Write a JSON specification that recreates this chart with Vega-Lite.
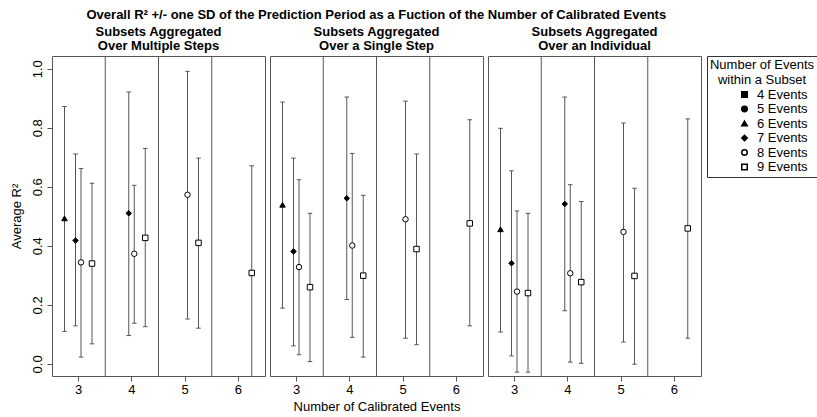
{
  "$schema": "https://vega.github.io/schema/vega-lite/v6.json",
  "background": "white",
  "padding": {"left": 9, "top": 9, "right": 2, "bottom": 0},
  "title": {"text": "Overall  R² +/- one SD of the Prediction Period as a Fuction of the Number of Calibrated Events", "fontSize": 13, "fontWeight": "bold", "anchor": "start", "dx": 77, "offset": 3, "color": "black"},
  "config": {
    "font": "Liberation Sans",
    "view": {"stroke": "#555", "strokeWidth": 1},
    "axis": {"labelFontSize": 13, "labelColor": "black", "titleFontSize": 13, "titleFontWeight": "normal", "titleColor": "black", "domain": false, "grid": false, "tickColor": "#555", "tickSize": 5},
    "title": {"fontSize": 13, "fontWeight": "bold", "color": "black", "lineHeight": 14, "offset": 3},
    "legend": {"orient": "right", "offset": 5, "padding": 3, "strokeColor": "#333", "titleFontWeight": "normal", "titleFontSize": 13, "titleColor": "black", "titleAlign": "center", "titleAnchor": "middle", "titleLineHeight": 15, "titlePadding": 1, "titleLimit": 200, "labelFontSize": 13, "labelColor": "black", "labelOffset": 6, "rowPadding": 0.5, "symbolOffset": 21}
  },
  "datasets": {
    "d": [
      {"panel": "A", "calib": 3, "events": 6, "mean": 0.493, "lo": 0.110, "hi": 0.872},
      {"panel": "A", "calib": 3, "events": 7, "mean": 0.418, "lo": 0.129, "hi": 0.711},
      {"panel": "A", "calib": 3, "events": 8, "mean": 0.344, "lo": 0.023, "hi": 0.662},
      {"panel": "A", "calib": 3, "events": 9, "mean": 0.340, "lo": 0.068, "hi": 0.612},
      {"panel": "A", "calib": 4, "events": 7, "mean": 0.510, "lo": 0.096, "hi": 0.921},
      {"panel": "A", "calib": 4, "events": 8, "mean": 0.373, "lo": 0.138, "hi": 0.605},
      {"panel": "A", "calib": 4, "events": 9, "mean": 0.427, "lo": 0.126, "hi": 0.730},
      {"panel": "A", "calib": 5, "events": 8, "mean": 0.573, "lo": 0.152, "hi": 0.991},
      {"panel": "A", "calib": 5, "events": 9, "mean": 0.410, "lo": 0.121, "hi": 0.697},
      {"panel": "A", "calib": 6, "events": 9, "mean": 0.308, "lo": -0.055, "hi": 0.671},
      {"panel": "B", "calib": 3, "events": 6, "mean": 0.539, "lo": 0.189, "hi": 0.887},
      {"panel": "B", "calib": 3, "events": 7, "mean": 0.381, "lo": 0.061, "hi": 0.697},
      {"panel": "B", "calib": 3, "events": 8, "mean": 0.328, "lo": 0.031, "hi": 0.624},
      {"panel": "B", "calib": 3, "events": 9, "mean": 0.260, "lo": 0.008, "hi": 0.510},
      {"panel": "B", "calib": 4, "events": 7, "mean": 0.561, "lo": 0.218, "hi": 0.904},
      {"panel": "B", "calib": 4, "events": 8, "mean": 0.401, "lo": 0.090, "hi": 0.713},
      {"panel": "B", "calib": 4, "events": 9, "mean": 0.299, "lo": 0.023, "hi": 0.571},
      {"panel": "B", "calib": 5, "events": 8, "mean": 0.490, "lo": 0.087, "hi": 0.890},
      {"panel": "B", "calib": 5, "events": 9, "mean": 0.389, "lo": 0.065, "hi": 0.711},
      {"panel": "B", "calib": 6, "events": 9, "mean": 0.476, "lo": 0.129, "hi": 0.827},
      {"panel": "C", "calib": 3, "events": 6, "mean": 0.456, "lo": 0.108, "hi": 0.798},
      {"panel": "C", "calib": 3, "events": 7, "mean": 0.341, "lo": 0.027, "hi": 0.654},
      {"panel": "C", "calib": 3, "events": 8, "mean": 0.245, "lo": -0.028, "hi": 0.518},
      {"panel": "C", "calib": 3, "events": 9, "mean": 0.240, "lo": -0.028, "hi": 0.510},
      {"panel": "C", "calib": 4, "events": 7, "mean": 0.542, "lo": 0.180, "hi": 0.904},
      {"panel": "C", "calib": 4, "events": 8, "mean": 0.307, "lo": 0.006, "hi": 0.607},
      {"panel": "C", "calib": 4, "events": 9, "mean": 0.277, "lo": 0.002, "hi": 0.550},
      {"panel": "C", "calib": 5, "events": 8, "mean": 0.447, "lo": 0.074, "hi": 0.816},
      {"panel": "C", "calib": 5, "events": 9, "mean": 0.298, "lo": -0.001, "hi": 0.595},
      {"panel": "C", "calib": 6, "events": 9, "mean": 0.459, "lo": 0.087, "hi": 0.830}
    ],
    "sep": [{"c": 4}, {"c": 5}, {"c": 6}]
  },
  "spacing": 3,
  "hconcat": [
    {
      "width": 213, "height": 320,
      "title": {"text": ["Subsets Aggregated", "Over Multiple Steps"]},
      "layer": [
        {"data": {"name": "sep"}, "mark": {"type": "rule", "color": "#555"},
         "encoding": {"x": {"field": "c", "type": "ordinal", "bandPosition": 0, "scale": {"type": "band", "domain": [3, 4, 5, 6], "paddingInner": 0, "paddingOuter": 0}, "axis": {"labelAngle": 0, "title": null, "labelPadding": 2}}}},
        {"data": {"name": "d"}, "transform": [{"filter": "datum.panel == 'A'"}],
         "mark": {"type": "rule", "color": "#555", "clip": true},
         "encoding": {
           "x": {"field": "calib", "type": "ordinal"},
           "xOffset": {"field": "events", "type": "quantitative", "scale": {"domain": [6, 7, 8, 9], "range": [12.5, 23.5, 29, 40]}},
           "y": {"field": "lo", "type": "quantitative", "scale": {"domain": [-0.041, 1.043], "nice": false, "zero": false}, "axis": {"values": [0, 0.2, 0.4, 0.6, 0.8, 1], "format": ".1f", "labelAngle": -90, "labelAlign": "center", "labelBaseline": "bottom", "labelPadding": 3, "title": "Average R²", "titlePadding": 8}},
           "y2": {"field": "hi"}
         }},
        {"data": {"name": "d"}, "transform": [{"filter": "datum.panel == 'A'"}],
         "mark": {"type": "point", "shape": "M-1,0L1,0", "size": 20, "stroke": "#555", "strokeWidth": 1, "filled": false, "clip": true, "opacity": 1},
         "encoding": {
           "x": {"field": "calib", "type": "ordinal"},
           "xOffset": {"field": "events", "type": "quantitative"},
           "y": {"field": "lo", "type": "quantitative"}
         }},
        {"data": {"name": "d"}, "transform": [{"filter": "datum.panel == 'A'"}],
         "mark": {"type": "point", "shape": "M-1,0L1,0", "size": 20, "stroke": "#555", "strokeWidth": 1, "filled": false, "clip": true, "opacity": 1},
         "encoding": {
           "x": {"field": "calib", "type": "ordinal"},
           "xOffset": {"field": "events", "type": "quantitative"},
           "y": {"field": "hi", "type": "quantitative"}
         }},
        {"data": {"name": "d"}, "transform": [{"filter": "datum.panel == 'A'"}],
         "mark": {"type": "point", "strokeWidth": 1, "opacity": 1},
         "encoding": {
           "x": {"field": "calib", "type": "ordinal"},
           "xOffset": {"field": "events", "type": "quantitative"},
           "y": {"field": "mean", "type": "quantitative"},
           "shape": {"field": "events", "type": "nominal", "title": ["Number of Events", "within a Subset"], "scale": {"domain": [4, 5, 6, 7, 8, 9], "range": ["square", "circle", "triangle-up", "diamond", "circle", "square"]}, "legend": {"labelExpr": "datum.label + ' Events'"}},
           "fill": {"field": "events", "type": "nominal", "title": ["Number of Events", "within a Subset"], "scale": {"domain": [4, 5, 6, 7, 8, 9], "range": ["black", "black", "black", "black", "white", "white"]}, "legend": {"labelExpr": "datum.label + ' Events'"}},
           "stroke": {"field": "events", "type": "nominal", "title": ["Number of Events", "within a Subset"], "scale": {"domain": [4, 5, 6, 7, 8, 9], "range": ["black", "black", "black", "black", "black", "black"]}, "legend": {"labelExpr": "datum.label + ' Events'"}},
           "size": {"field": "events", "type": "nominal", "title": ["Number of Events", "within a Subset"], "scale": {"domain": [4, 5, 6, 7, 8, 9], "range": [30, 30, 45, 22, 38, 55]}, "legend": {"labelExpr": "datum.label + ' Events'"}}
         }}
      ]
    },
    {
      "width": 213, "height": 320,
      "title": {"text": ["Subsets Aggregated", "Over a Single Step"]},
      "layer": [
        {"data": {"name": "sep"}, "mark": {"type": "rule", "color": "#555"},
         "encoding": {"x": {"field": "c", "type": "ordinal", "bandPosition": 0, "scale": {"type": "band", "domain": [3, 4, 5, 6], "paddingInner": 0, "paddingOuter": 0}, "axis": {"labelAngle": 0, "title": "Number of Calibrated Events", "labelPadding": 2, "titlePadding": 4}}}},
        {"data": {"name": "d"}, "transform": [{"filter": "datum.panel == 'B'"}],
         "mark": {"type": "rule", "color": "#555", "clip": true},
         "encoding": {
           "x": {"field": "calib", "type": "ordinal"},
           "xOffset": {"field": "events", "type": "quantitative", "scale": {"domain": [6, 7, 8, 9], "range": [12.5, 23.5, 29, 40]}},
           "y": {"field": "lo", "type": "quantitative", "scale": {"domain": [-0.041, 1.043], "nice": false, "zero": false}, "axis": null},
           "y2": {"field": "hi"}
         }},
        {"data": {"name": "d"}, "transform": [{"filter": "datum.panel == 'B'"}],
         "mark": {"type": "point", "shape": "M-1,0L1,0", "size": 20, "stroke": "#555", "strokeWidth": 1, "filled": false, "clip": true, "opacity": 1},
         "encoding": {
           "x": {"field": "calib", "type": "ordinal"},
           "xOffset": {"field": "events", "type": "quantitative"},
           "y": {"field": "lo", "type": "quantitative"}
         }},
        {"data": {"name": "d"}, "transform": [{"filter": "datum.panel == 'B'"}],
         "mark": {"type": "point", "shape": "M-1,0L1,0", "size": 20, "stroke": "#555", "strokeWidth": 1, "filled": false, "clip": true, "opacity": 1},
         "encoding": {
           "x": {"field": "calib", "type": "ordinal"},
           "xOffset": {"field": "events", "type": "quantitative"},
           "y": {"field": "hi", "type": "quantitative"}
         }},
        {"data": {"name": "d"}, "transform": [{"filter": "datum.panel == 'B'"}],
         "mark": {"type": "point", "strokeWidth": 1, "opacity": 1},
         "encoding": {
           "x": {"field": "calib", "type": "ordinal"},
           "xOffset": {"field": "events", "type": "quantitative"},
           "y": {"field": "mean", "type": "quantitative"},
           "shape": {"field": "events", "type": "nominal", "title": ["Number of Events", "within a Subset"], "scale": {"domain": [4, 5, 6, 7, 8, 9], "range": ["square", "circle", "triangle-up", "diamond", "circle", "square"]}, "legend": {"labelExpr": "datum.label + ' Events'"}},
           "fill": {"field": "events", "type": "nominal", "title": ["Number of Events", "within a Subset"], "scale": {"domain": [4, 5, 6, 7, 8, 9], "range": ["black", "black", "black", "black", "white", "white"]}, "legend": {"labelExpr": "datum.label + ' Events'"}},
           "stroke": {"field": "events", "type": "nominal", "title": ["Number of Events", "within a Subset"], "scale": {"domain": [4, 5, 6, 7, 8, 9], "range": ["black", "black", "black", "black", "black", "black"]}, "legend": {"labelExpr": "datum.label + ' Events'"}},
           "size": {"field": "events", "type": "nominal", "title": ["Number of Events", "within a Subset"], "scale": {"domain": [4, 5, 6, 7, 8, 9], "range": [30, 30, 45, 22, 38, 55]}, "legend": {"labelExpr": "datum.label + ' Events'"}}
         }}
      ]
    },
    {
      "width": 213, "height": 320,
      "title": {"text": ["Subsets Aggregated", "Over an Individual"]},
      "layer": [
        {"data": {"name": "sep"}, "mark": {"type": "rule", "color": "#555"},
         "encoding": {"x": {"field": "c", "type": "ordinal", "bandPosition": 0, "scale": {"type": "band", "domain": [3, 4, 5, 6], "paddingInner": 0, "paddingOuter": 0}, "axis": {"labelAngle": 0, "title": null, "labelPadding": 2}}}},
        {"data": {"name": "d"}, "transform": [{"filter": "datum.panel == 'C'"}],
         "mark": {"type": "rule", "color": "#555", "clip": true},
         "encoding": {
           "x": {"field": "calib", "type": "ordinal"},
           "xOffset": {"field": "events", "type": "quantitative", "scale": {"domain": [6, 7, 8, 9], "range": [12.5, 23.5, 29, 40]}},
           "y": {"field": "lo", "type": "quantitative", "scale": {"domain": [-0.041, 1.043], "nice": false, "zero": false}, "axis": null},
           "y2": {"field": "hi"}
         }},
        {"data": {"name": "d"}, "transform": [{"filter": "datum.panel == 'C'"}],
         "mark": {"type": "point", "shape": "M-1,0L1,0", "size": 20, "stroke": "#555", "strokeWidth": 1, "filled": false, "clip": true, "opacity": 1},
         "encoding": {
           "x": {"field": "calib", "type": "ordinal"},
           "xOffset": {"field": "events", "type": "quantitative"},
           "y": {"field": "lo", "type": "quantitative"}
         }},
        {"data": {"name": "d"}, "transform": [{"filter": "datum.panel == 'C'"}],
         "mark": {"type": "point", "shape": "M-1,0L1,0", "size": 20, "stroke": "#555", "strokeWidth": 1, "filled": false, "clip": true, "opacity": 1},
         "encoding": {
           "x": {"field": "calib", "type": "ordinal"},
           "xOffset": {"field": "events", "type": "quantitative"},
           "y": {"field": "hi", "type": "quantitative"}
         }},
        {"data": {"name": "d"}, "transform": [{"filter": "datum.panel == 'C'"}],
         "mark": {"type": "point", "strokeWidth": 1, "opacity": 1},
         "encoding": {
           "x": {"field": "calib", "type": "ordinal"},
           "xOffset": {"field": "events", "type": "quantitative"},
           "y": {"field": "mean", "type": "quantitative"},
           "shape": {"field": "events", "type": "nominal", "title": ["Number of Events", "within a Subset"], "scale": {"domain": [4, 5, 6, 7, 8, 9], "range": ["square", "circle", "triangle-up", "diamond", "circle", "square"]}, "legend": {"labelExpr": "datum.label + ' Events'"}},
           "fill": {"field": "events", "type": "nominal", "title": ["Number of Events", "within a Subset"], "scale": {"domain": [4, 5, 6, 7, 8, 9], "range": ["black", "black", "black", "black", "white", "white"]}, "legend": {"labelExpr": "datum.label + ' Events'"}},
           "stroke": {"field": "events", "type": "nominal", "title": ["Number of Events", "within a Subset"], "scale": {"domain": [4, 5, 6, 7, 8, 9], "range": ["black", "black", "black", "black", "black", "black"]}, "legend": {"labelExpr": "datum.label + ' Events'"}},
           "size": {"field": "events", "type": "nominal", "title": ["Number of Events", "within a Subset"], "scale": {"domain": [4, 5, 6, 7, 8, 9], "range": [30, 30, 45, 22, 38, 55]}, "legend": {"labelExpr": "datum.label + ' Events'"}}
         }}
      ]
    }
  ]
}
